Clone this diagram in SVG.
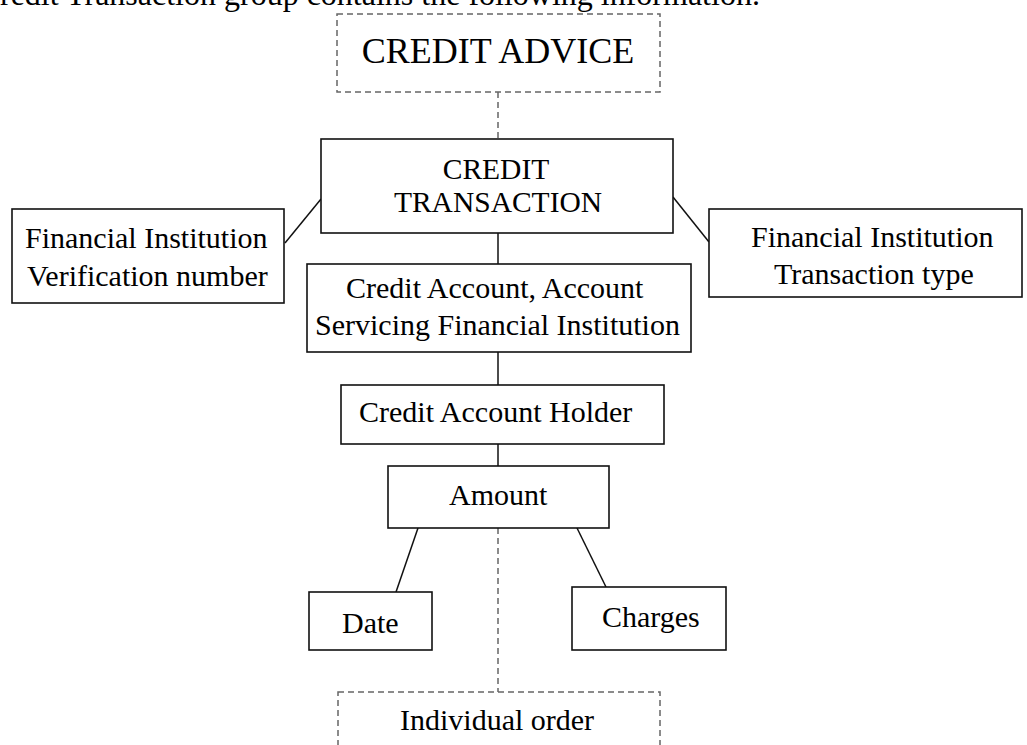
<svg xmlns="http://www.w3.org/2000/svg" width="1027" height="745" viewBox="0 0 1027 745">
  <style>
    text { font-family: "Liberation Serif", "Times New Roman", serif; fill: #000; }
    .lbl { font-size: 30px; }
    .box { fill: #fff; stroke: #111; stroke-width: 1.6; }
    .dbox { fill: #fff; stroke: #666; stroke-width: 1.5; stroke-dasharray: 6 4; }
    .link { stroke: #111; stroke-width: 1.5; fill: none; }
    .dlink { stroke: #666; stroke-width: 1.5; stroke-dasharray: 6 4; fill: none; }
  </style>
  <rect width="1027" height="745" fill="#fff"/>

  <!-- intro sentence, running off the top edge -->
  <text x="0" y="5" font-size="32">redit Transaction group contains the following information.</text>

  <!-- connectors -->
  <g id="connectors">
    <line class="dlink" x1="498" y1="92" x2="498" y2="139"/>
    <line class="link" x1="285" y1="243" x2="321" y2="199"/>
    <line class="link" x1="673" y1="197" x2="709" y2="242"/>
    <line class="link" x1="498" y1="233" x2="498" y2="264"/>
    <line class="link" x1="498" y1="352" x2="498" y2="385"/>
    <line class="link" x1="498" y1="444" x2="498" y2="466"/>
    <line class="link" x1="418" y1="528" x2="396" y2="592"/>
    <line class="link" x1="577" y1="528" x2="606" y2="587"/>
    <line class="dlink" x1="498" y1="528" x2="498" y2="692"/>
  </g>

  <g id="credit-advice">
    <rect class="dbox" x="337" y="14" width="323" height="78"/>
    <text x="498" y="63" font-size="36" text-anchor="middle">CREDIT ADVICE</text>
  </g>

  <g id="credit-transaction">
    <rect class="box" x="321" y="139" width="352" height="94"/>
    <text x="496" y="179" font-size="29.5" text-anchor="middle">CREDIT</text>
    <text x="498" y="212" font-size="29.5" text-anchor="middle">TRANSACTION</text>
  </g>

  <g id="fi-verification">
    <rect class="box" x="12" y="209" width="272" height="94"/>
    <text class="lbl" x="25" y="248">Financial Institution</text>
    <text class="lbl" x="27" y="286">Verification number</text>
  </g>

  <g id="fi-transaction-type">
    <rect class="box" x="709" y="209" width="313" height="88"/>
    <text class="lbl" x="751" y="247">Financial Institution</text>
    <text class="lbl" x="774" y="284">Transaction type</text>
  </g>

  <g id="credit-account">
    <rect class="box" x="307" y="264" width="384" height="88"/>
    <text class="lbl" x="346" y="298">Credit Account, Account</text>
    <text class="lbl" x="315" y="335">Servicing Financial Institution</text>
  </g>

  <g id="credit-account-holder">
    <rect class="box" x="341" y="385" width="323" height="59"/>
    <text class="lbl" x="359" y="422">Credit Account Holder</text>
  </g>

  <g id="amount">
    <rect class="box" x="388" y="466" width="221" height="62"/>
    <text class="lbl" x="449" y="505">Amount</text>
  </g>

  <g id="date">
    <rect class="box" x="309" y="592" width="123" height="58"/>
    <text class="lbl" x="342" y="633">Date</text>
  </g>

  <g id="charges">
    <rect class="box" x="572" y="587" width="154" height="63"/>
    <text class="lbl" x="602" y="627">Charges</text>
  </g>

  <g id="individual-order">
    <rect class="dbox" x="338" y="692" width="322" height="70"/>
    <text class="lbl" x="400" y="730">Individual order</text>
  </g>
</svg>
